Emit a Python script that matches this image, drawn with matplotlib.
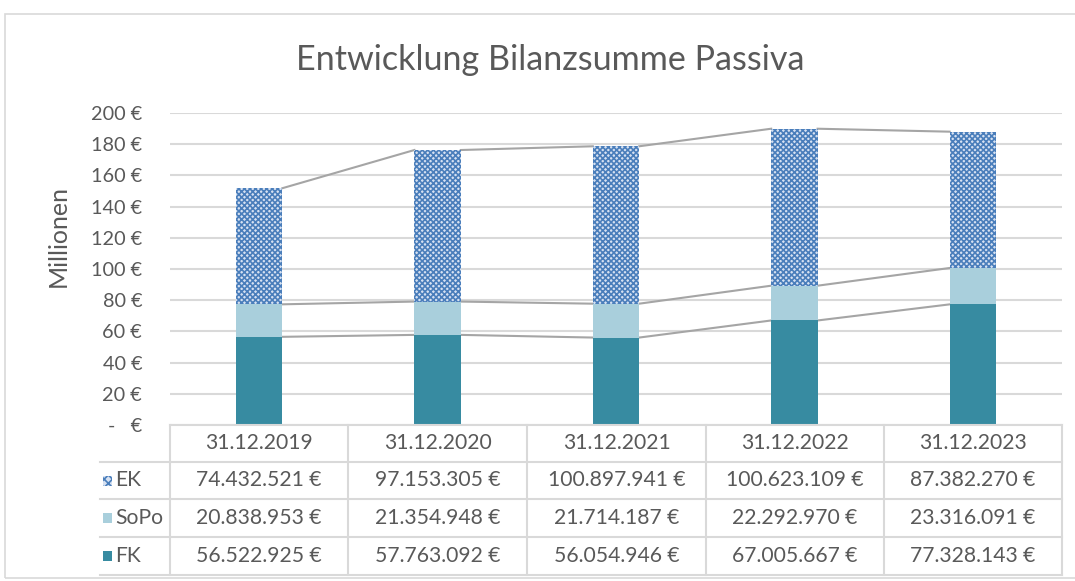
import numpy as np
import matplotlib
matplotlib.use('Agg')
import matplotlib.pyplot as plt
from matplotlib.patches import Rectangle
from matplotlib.lines import Line2D

W=1075; H=581
dates=['31.12.2019','31.12.2020','31.12.2021','31.12.2022','31.12.2023']
FK=[56522925,57763092,56054946,67005667,77328143]
SoPo=[20838953,21354948,21714187,22292970,23316091]
EK=[74432521,97153305,100897941,100623109,87382270]
yticks=[0,20,40,60,80,100,120,140,160,180,200]

C_FK='#378ba1'; C_SOPO='#a9cfdc'; C_EK='#4a7ebb'; EK_BG='#d6e1f2'; TXT='#595959'; GRID='#d9d9d9'
plt.rcParams['font.family']=['Lato','DejaVu Sans']
plt.rcParams['hatch.linewidth']=1.2

def fx(x): return x/W
def fy(y): return 1-y/H
def eur(v): return '{:,}'.format(v).replace(',','.')+' €'

fig=plt.figure(figsize=(W/100,H/100),dpi=100)
# chart area border
fig.add_artist(Rectangle((fx(5),fy(578)),1.0,fy(14)-fy(578),transform=fig.transFigure,fill=False,edgecolor=GRID,lw=1.2))
fig.text(fx(550),fy(60),'Entwicklung Bilanzsumme Passiva',ha='center',va='center',fontsize=24.6,color=TXT)
fig.text(fx(58),fy(236),'Millionen',ha='center',va='center',rotation=90,fontsize=18,color=TXT)

ax=fig.add_axes([fx(170),fy(425),fx(1062)-fx(170),fy(113)-fy(425)])
n=len(dates); x=np.arange(n)+0.5
fk=np.array(FK)/1e6; so=np.array(SoPo)/1e6; ek=np.array(EK)/1e6
w=0.26
ax.bar(x,fk,w,color=C_FK,zorder=3)
ax.bar(x,so,w,bottom=fk,color=C_SOPO,zorder=3)
ax.bar(x,ek,w,bottom=fk+so,facecolor=EK_BG,edgecolor=C_EK,hatch='xxxxxx',lw=0,zorder=3)
for top in [fk,fk+so,fk+so+ek]:
    for i in range(n-1):
        ax.plot([x[i]+w/2,x[i+1]-w/2],[top[i],top[i+1]],color='#a5a5a5',lw=1.5,zorder=2)
ax.set_xlim(0,n); ax.set_ylim(0,200)
ax.set_yticks(yticks)
ax.set_yticklabels([('%d €'%t) if t else '-   €' for t in yticks],fontsize=14.3,color=TXT)
ax.set_xticks([])
ax.tick_params(axis='y',length=0,pad=20)
ax.grid(axis='y',color=GRID,lw=1.5,zorder=0)
for s in ax.spines.values(): s.set_visible(False)

# data table
cols=[170,348,527,706,884,1062]
rows=[425,462,499,537,575]
lc=GRID
for y in rows[1:]:
    fig.add_artist(Line2D([fx(100),fx(1062)],[fy(y),fy(y)],transform=fig.transFigure,color=lc,lw=1.5))
fig.add_artist(Line2D([fx(170),fx(1062)],[fy(425),fy(425)],transform=fig.transFigure,color=lc,lw=1.5))
for c in cols:
    fig.add_artist(Line2D([fx(c),fx(c)],[fy(425),fy(575)],transform=fig.transFigure,color=lc,lw=1.5))
for j,d in enumerate(dates):
    fig.text(fx((cols[j]+cols[j+1])/2),fy(443),d,ha='center',va='center',fontsize=15.2,color=TXT)
series=[('EK',EK),('SoPo',SoPo),('FK',FK)]
for r,(name,vals) in enumerate(series):
    yc=(rows[r+1]+rows[r+2])/2
    if name=='EK':
        key=Rectangle((fx(103),fy(yc+5)),fx(9),fy(0)-fy(10),transform=fig.transFigure,facecolor=EK_BG,edgecolor=C_EK,hatch='xxxx',lw=0)
    else:
        key=Rectangle((fx(103),fy(yc+5)),fx(9),fy(0)-fy(10),transform=fig.transFigure,color=C_FK if name=='FK' else C_SOPO,lw=0)
    fig.add_artist(key)
    fig.text(fx(115),fy(yc),name,ha='left',va='center',fontsize=15.2,color=TXT)
    for j,v in enumerate(vals):
        fig.text(fx((cols[j]+cols[j+1])/2),fy(yc),eur(v),ha='center',va='center',fontsize=15.2,color=TXT)

fig.savefig('out.png',dpi=100)
